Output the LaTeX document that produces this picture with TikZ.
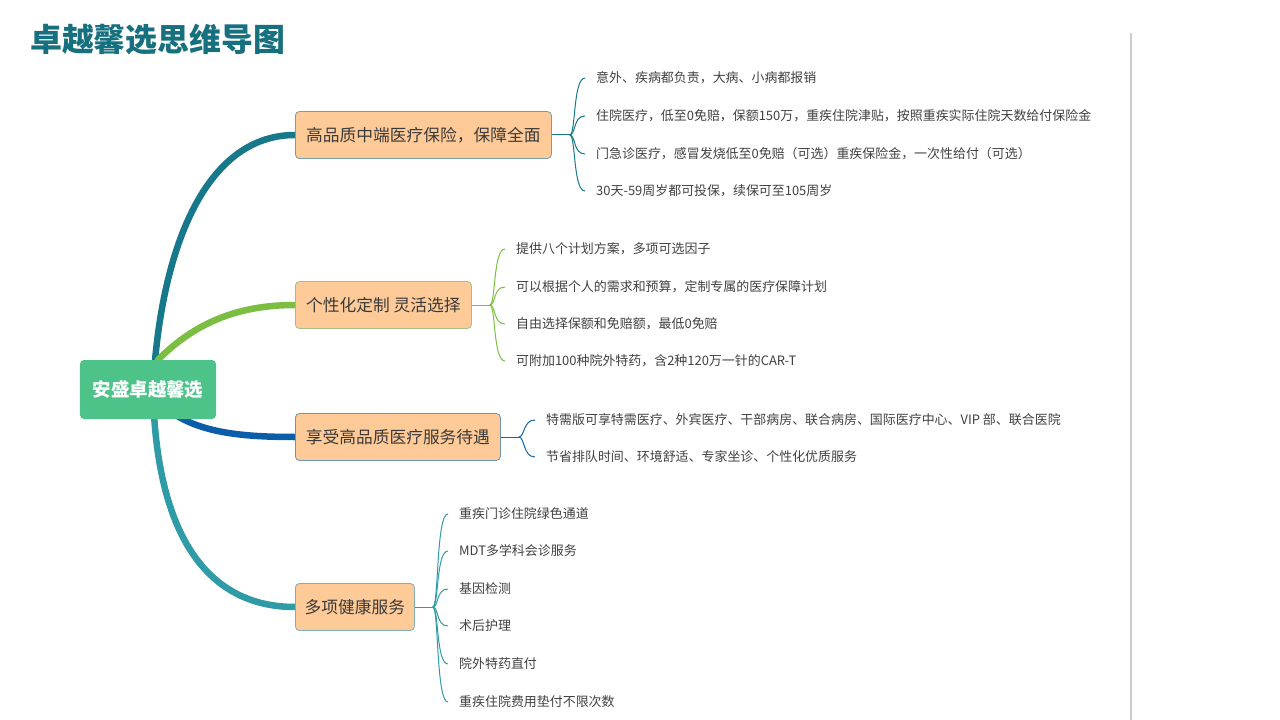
\documentclass[tikz,border=0pt]{standalone}
\usepackage{fontspec}
\setmainfont{Noto Sans CJK SC}
\usepackage{tikz}
\usetikzlibrary{backgrounds}

\definecolor{titleteal}{HTML}{17707F}
\definecolor{rootgreen}{HTML}{4DC38A}
\definecolor{boxpeach}{HTML}{FECB98}
\definecolor{boxtext}{HTML}{3A3A3A}
\definecolor{leaftext}{HTML}{404040}
\definecolor{tealdark}{HTML}{17788C}
\definecolor{grassgreen}{HTML}{7CBE42}
\definecolor{deepblue}{HTML}{0B5DAA}
\definecolor{teallight}{HTML}{2F9BA6}
\definecolor{divider}{HTML}{CCCCCC}

\tikzset{
  topic/.style={rectangle, rounded corners=4bp, fill=rootgreen, text=white,
    font=\fontsize{18.5}{20}\selectfont\bfseries, minimum width=136bp, minimum height=59bp},
  subtopic/.style={rectangle, rounded corners=4bp, fill=boxpeach, draw=#1!45!lightgray,
    line width=0.8bp, text=boxtext, font=\fontsize{16.8}{19}\selectfont,
    minimum height=47bp, inner xsep=0bp, anchor=west},
  leaf/.style={anchor=west, inner xsep=11bp, inner ysep=2bp, text=leaftext,
    font=\fontsize{13}{15}\selectfont},
  mainline/.style={line width=6.5bp, line cap=round, draw=#1},
  twig/.style={line width=1bp, draw=#1},
}

\begin{document}
\begin{tikzpicture}[x=1bp,y=1bp,yscale=-1,xscale=1]
        \useasboundingbox (0,0) rectangle (1280,720);

        % Title
        \node [anchor=west, inner sep=0pt, text=titleteal, font=\fontsize{32}{36}\selectfont\bfseries] (title) at (30,40) {卓越馨选思维导图};
        %Straight Lines [divider]
        \draw [divider, line width=1.2bp] (1131,33) -- (1131,720);

        %Shape: Rounded Rect [root]
        \node [topic] (root) at (148,389.5) {安盛卓越馨选};

        %Shape: Rounded Rect [branches]
        \node [subtopic=tealdark, minimum width=256bp] (hq) at (295,135) {高品质中端医疗保险，保障全面};
        \node [subtopic=grassgreen, minimum width=176bp] (ind) at (295,305) {个性化定制 灵活选择};
        \node [subtopic=deepblue, minimum width=205bp] (srv) at (295,437) {享受高品质医疗服务待遇};
        \node [subtopic=teallight, minimum width=119bp] (hlth) at (295,607) {多项健康服务};

        % Text Node
        \node [leaf] (hq1) at (585,78) {意外、疾病都负责，大病、小病都报销};
        \node [leaf] (hq2) at (585,116) {住院医疗，低至0免赔，保额150万，重疾住院津贴，按照重疾实际住院天数给付保险金};
        \node [leaf] (hq3) at (585,154) {门急诊医疗，感冒发烧低至0免赔（可选）重疾保险金，一次性给付（可选）};
        \node [leaf] (hq4) at (585,191) {30天-59周岁都可投保，续保可至105周岁};
        % Text Node
        \node [leaf] (ind1) at (505,249) {提供八个计划方案，多项可选因子};
        \node [leaf] (ind2) at (505,287) {可以根据个人的需求和预算，定制专属的医疗保障计划};
        \node [leaf] (ind3) at (505,324) {自由选择保额和免赔额，最低0免赔};
        \node [leaf] (ind4) at (505,361) {可附加100种院外特药，含2种120万一针的CAR-T};
        % Text Node
        \node [leaf] (srv1) at (535,420) {特需版可享特需医疗、外宾医疗、干部病房、联合病房、国际医疗中心、VIP 部、联合医院};
        \node [leaf] (srv2) at (535,457) {节省排队时间、环境舒适、专家坐诊、个性化优质服务};
        % Text Node
        \node [leaf] (hlth1) at (448,514) {重疾门诊住院绿色通道};
        \node [leaf] (hlth2) at (448,551) {MDT多学科会诊服务};
        \node [leaf] (hlth3) at (448,589) {基因检测};
        \node [leaf] (hlth4) at (448,626) {术后护理};
        \node [leaf] (hlth5) at (448,664) {院外特药直付};
        \node [leaf] (hlth6) at (448,702) {重疾住院费用垫付不限次数};

        % junctions
        \coordinate (hqj) at ([xshift=18bp]hq.east);
        \coordinate (indj) at ([xshift=18bp]ind.east);
        \coordinate (srvj) at ([xshift=18bp]srv.east);
        \coordinate (hlthj) at ([xshift=18bp]hlth.east);

        \begin{scope}[on background layer]
        %Curve Lines [main branches]
        \draw [mainline=tealdark] ([xshift=5bp]root.center) .. controls +(7,-140) and +(-90,0) .. (hq.west);
        \draw [mainline=grassgreen] ([xshift=10bp]root.north) .. controls +(35,-35) and +(-60,0) .. (ind.west);
        \draw [mainline=deepblue] (root.center) .. controls +(30,40) and +(-70,0) .. (srv.west);
        \draw [mainline=teallight] ([xshift=5bp]root.center) .. controls +(3,150) and +(-85,0) .. (hlth.west);
        \end{scope}

        %Curve Lines [twigs]
        \draw [twig=tealdark] (hq.east) -- (hqj);
        \foreach \i in {1,...,4}
          \draw [twig=tealdark] (hqj) .. controls +(6,0) and +(-12,0) .. (hq\i.west);
        \draw [twig=grassgreen] (ind.east) -- (indj);
        \foreach \i in {1,...,4}
          \draw [twig=grassgreen] (indj) .. controls +(6,0) and +(-12,0) .. (ind\i.west);
        \draw [twig=deepblue!80!teallight] (srv.east) -- (srvj);
        \foreach \i in {1,2}
          \draw [twig=deepblue!80!teallight] (srvj) .. controls +(6,0) and +(-12,0) .. (srv\i.west);
        \draw [twig=teallight] (hlth.east) -- (hlthj);
        \foreach \i in {1,...,6}
          \draw [twig=teallight] (hlthj) .. controls +(6,0) and +(-12,0) .. (hlth\i.west);

\end{tikzpicture}
\end{document}
